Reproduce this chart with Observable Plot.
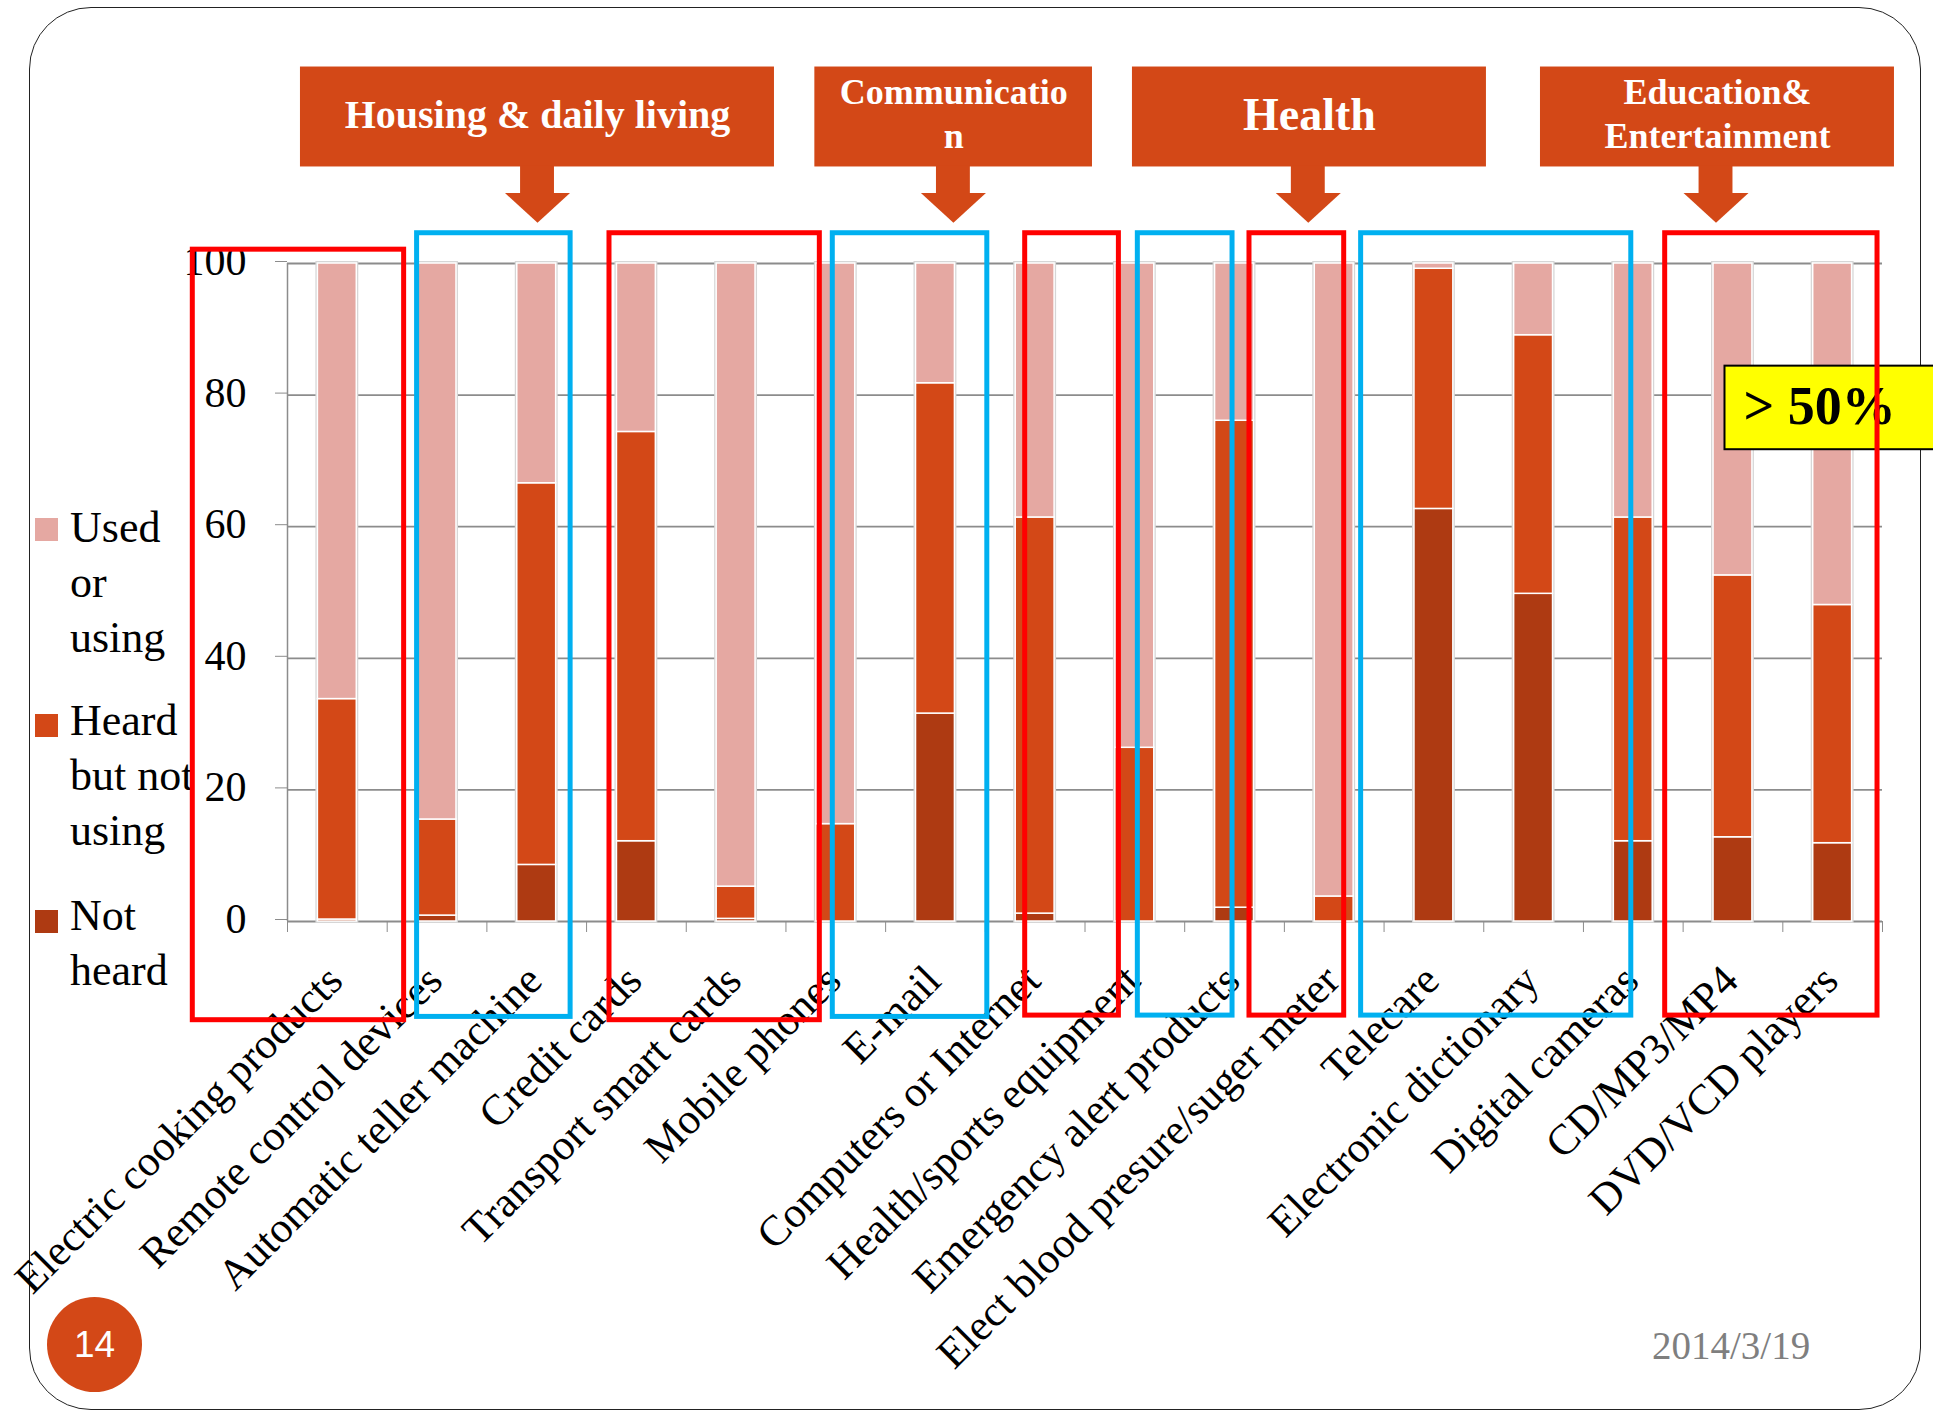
<!DOCTYPE html>
<html><head><meta charset="utf-8">
<script src="https://cdn.jsdelivr.net/npm/d3@7"></script>
<script src="https://cdn.jsdelivr.net/npm/@observablehq/plot@0.6"></script>
<style>
body{margin:0;background:#fff;}
#page{position:relative;width:1933px;height:1412px;overflow:hidden;font-family:'Liberation Serif','Times New Roman',serif;}
#border{position:absolute;left:29px;top:7px;width:1892px;height:1403px;box-sizing:border-box;border:1.6px solid #222;border-radius:62px;}
.lg{position:absolute;left:70px;font-size:44px;line-height:55px;color:#000;white-space:nowrap;}
.sw{position:absolute;left:35px;width:23px;height:23px;}
#pn{position:absolute;left:47px;top:1297px;width:95px;height:95px;border-radius:50%;background:#D34817;color:#fff;font-family:'Liberation Sans',Arial,sans-serif;font-size:37px;display:flex;align-items:center;justify-content:center;}
#date{position:absolute;left:1652px;top:1326px;font-size:39px;line-height:39px;color:#7f7f7f;}
#chart{position:absolute;left:0;top:0;}
</style></head>
<body>
<div id="page">
  <div id="border"></div>
  <div id="legend"></div>
  <div id="pn">14</div>
  <div id="date">2014/3/19</div>
  <div id="chart"></div>
</div>
<script>
// ---------- data ----------
const categories = ["Electric cooking products","Remote control devices","Automatic teller machine","Credit cards","Transport smart cards","Mobile phones","E-mail","Computers or Internet","Health/sports equipment","Emergency alert products","Elect blood presure/suger meter","Telecare","Electronic dictionary","Digital cameras","CD/MP3/MP4","DVD/VCD players"];
const notHeard = [0.3, 0.9, 8.6, 12.2, 0.4, 0, 31.6, 1.2, 0, 2.1, 0, 62.7, 49.8, 12.2, 12.8, 11.9];
const heard    = [33.5, 14.6, 58.0, 62.2, 4.9, 14.8, 50.2, 60.2, 26.4, 74.0, 3.8, 36.5, 39.3, 49.2, 39.8, 36.2];
const used     = [66.2, 84.5, 33.4, 25.6, 94.7, 85.2, 18.2, 38.6, 73.6, 23.9, 96.2, 0.8, 10.9, 38.6, 47.4, 51.9];
const seriesNames = ["Not heard", "Heard but not using", "Used or using"];
const seriesColors = ["#AE3A12", "#D34817", "#E5A8A2"];
const yTicks = [0, 20, 40, 60, 80, 100];
const legendLabels = ["Used<br>or<br>using", "Heard<br>but not<br>using", "Not<br>heard"];

// ---------- annotations (in category-index / percent units) ----------
const groupBoxes = [
  {x1:-1.45, x2:0.67, y1:-15.0, y2:102.1, c:"red"},
  {x1:0.80, x2:2.34, y1:-14.5, y2:104.6, c:"blue"},
  {x1:2.73, x2:4.84, y1:-15.0, y2:104.6, c:"red"},
  {x1:4.97, x2:6.52, y1:-14.5, y2:104.6, c:"blue"},
  {x1:6.90, x2:7.84, y1:-14.3, y2:104.6, c:"red"},
  {x1:8.03, x2:8.98, y1:-14.3, y2:104.6, c:"blue"},
  {x1:9.15, x2:10.10, y1:-14.3, y2:104.6, c:"red"},
  {x1:10.27, x2:12.98, y1:-14.3, y2:104.6, c:"blue"},
  {x1:13.32, x2:15.45, y1:-14.3, y2:104.6, c:"red"}
];
const headerBoxes = [
  {x1:-0.37, x2:4.385, ax:2.008, text:"Housing & daily living", fs:40},
  {x1:4.79, x2:7.575, ax:6.18, text:"Communicatio\nn", fs:36},
  {x1:7.976, x2:11.527, ax:9.74, text:"Health", fs:46},
  {x1:12.069, x2:15.62, ax:13.83, text:"Education&\nEntertainment", fs:36}
];
const hdrTop = 129.86, hdrBottom = 114.67, headTop = 110.7, tipY = 106.2;
const calloutBox = [{x1:13.92, x2:16.2, y1:71.7, y2:84.4}];
const calloutText = [{x:14.87, y:78.2, text:"> 50%"}];

// ---------- derived ----------
const segs = [];
categories.forEach((c, i) => {
  let base = 0;
  [notHeard[i], heard[i], used[i]].forEach((v, k) => {
    if (v > 0) segs.push({i, series: seriesNames[k], y1: base, y2: base + v});
    base += v;
  });
});
const boundaries = d3.range(-0.5, 16, 1);
const half = 0.195;
const serif = "'Liberation Serif','Times New Roman',serif";
const hdrColor = "#D34817";
const arrowPts = headerBoxes.flatMap((h, k) => [
  {k, x: h.ax - 0.326, y: headTop},
  {k, x: h.ax, y: tipY},
  {k, x: h.ax + 0.326, y: headTop}
]);

const chart = Plot.plot({
  width: 1933, height: 1412,
  marginLeft: 287, marginRight: 51, marginTop: 263, marginBottom: 491,
  x: {domain: [-0.5, 15.5], axis: null},
  y: {domain: [0, 100], axis: null},
  color: {domain: seriesNames, range: seriesColors},
  style: {background: "transparent", overflow: "visible", color: "#000"},
  marks: [
    Plot.ruleY(yTicks, {stroke: "#8c8c8c", strokeWidth: 1.8}),
    Plot.axisY({ticks: yTicks, tickSize: 12, tickPadding: 29, fontSize: 42, fontFamily: serif, stroke: "#8c8c8c", fill: "#000", label: null, dy: -2}),
    Plot.ruleX([-0.5], {y1: 0, y2: 100, stroke: "#8c8c8c", strokeWidth: 1.5}),
    Plot.axisX({ticks: boundaries, tickSize: 11, tickFormat: () => "", stroke: "#8c8c8c", label: null}),
    Plot.rect(categories, {x1: (d, i) => i - half, x2: (d, i) => i + half, y1: 0, y2: 100, fill: "none", stroke: "#d6d6d6", strokeWidth: 4}),
    Plot.rect(segs, {x1: d => d.i - half, x2: d => d.i + half, y1: "y1", y2: "y2", fill: "series", stroke: "white", strokeWidth: 1.5}),
    Plot.text(categories, {x: (d, i) => i, y: 0, text: d => d, rotate: -45, textAnchor: "end", lineAnchor: "top", dx: -14, dy: 40, fontSize: 43, fontFamily: serif, fill: "#000"}),
    Plot.rect(calloutBox, {x1: "x1", x2: "x2", y1: "y1", y2: "y2", fill: "#FFFF00", stroke: "#000", strokeWidth: 2}),
    Plot.text(calloutText, {x: "x", y: "y", text: "text", fontSize: 54, fontWeight: "bold", fontFamily: serif, fill: "#000"}),
    Plot.rect(groupBoxes, {x1: "x1", x2: "x2", y1: "y1", y2: "y2", fill: "none", stroke: d => d.c === "red" ? "#FF0000" : "#00B0F0", strokeWidth: 5}),
    Plot.rect(headerBoxes, {x1: "x1", x2: "x2", y1: hdrBottom, y2: hdrTop, fill: hdrColor}),
    Plot.rect(headerBoxes, {x1: d => d.ax - 0.17, x2: d => d.ax + 0.17, y1: headTop - 0.1, y2: hdrBottom + 0.1, fill: hdrColor}),
    Plot.line(arrowPts, {x: "x", y: "y", z: "k", fill: hdrColor, stroke: "none"}),
    Plot.text(headerBoxes, {x: d => (d.x1 + d.x2) / 2, y: (hdrTop + hdrBottom) / 2 + 0.75, text: "text", fontSize: d => d.fs, fontWeight: "bold", fontFamily: serif, fill: "#fff", lineHeight: 1.22})
  ]
});
document.getElementById("chart").appendChild(chart);

// legend (HTML, beneath the chart svg)
const lg = document.getElementById("legend");
const lgTops = [499.6, 692.6, 887.6];
const swTops = [518, 714, 909.5];
[2, 1, 0].forEach((k, j) => {
  const sw = document.createElement("div");
  sw.className = "sw"; sw.style.top = swTops[j] + "px"; sw.style.background = seriesColors[k];
  lg.appendChild(sw);
  const t = document.createElement("div");
  t.className = "lg"; t.style.top = lgTops[j] + "px"; t.innerHTML = legendLabels[j];
  lg.appendChild(t);
});
</script>
</body></html>
